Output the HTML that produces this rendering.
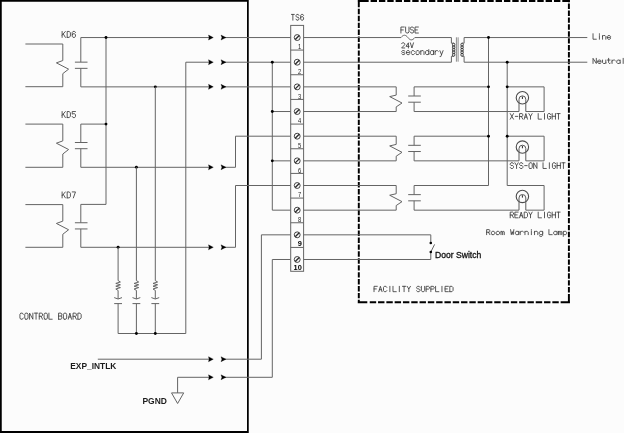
<!DOCTYPE html>
<html><head><meta charset="utf-8"><title>Wiring diagram</title>
<style>
html,body{margin:0;padding:0;background:#fcfcfc;}
body{width:624px;height:433px;overflow:hidden;position:relative;font-family:"Liberation Sans",sans-serif;}
svg{display:block;position:absolute;left:-8px;top:-8px;filter:grayscale(1);}
</style></head><body>
<svg width="640" height="449" viewBox="-8 -8 640 449">
<g>
<rect x="-8" y="-8" width="640" height="449" fill="#fcfcfc"/>
<path d="M-8,-8 H248.75 V441 H-8 Z M1.75,1.7 V430.9 H247.0 V1.7 Z" fill="#000" fill-rule="evenodd"/>
<path d="M357.75,-2.00H368.67M357.75,-0.5H368.67M357.75,0.90H368.67M370.60,-2.00H377.00M370.60,-0.5H377.00M370.60,0.90H377.00M378.94,-2.00H385.33M378.94,-0.5H385.33M378.94,0.90H385.33M387.27,-2.00H393.67M387.27,-0.5H393.67M387.27,0.90H393.67M395.60,-2.00H402.00M395.60,-0.5H402.00M395.60,0.90H402.00M403.94,-2.00H410.34M403.94,-0.5H410.34M403.94,0.90H410.34M412.27,-2.00H418.67M412.27,-0.5H418.67M412.27,0.90H418.67M420.61,-2.00H427.01M420.61,-0.5H427.01M420.61,0.90H427.01M428.94,-2.00H435.34M428.94,-0.5H435.34M428.94,0.90H435.34M437.28,-2.00H443.68M437.28,-0.5H443.68M437.28,0.90H443.68M445.61,-2.00H452.01M445.61,-0.5H452.01M445.61,0.90H452.01M453.95,-2.00H460.35M453.95,-0.5H460.35M453.95,0.90H460.35M462.28,-2.00H468.68M462.28,-0.5H468.68M462.28,0.90H468.68M470.62,-2.00H477.02M470.62,-0.5H477.02M470.62,0.90H477.02M478.95,-2.00H485.35M478.95,-0.5H485.35M478.95,0.90H485.35M487.29,-2.00H493.69M487.29,-0.5H493.69M487.29,0.90H493.69M495.62,-2.00H502.02M495.62,-0.5H502.02M495.62,0.90H502.02M503.96,-2.00H510.36M503.96,-0.5H510.36M503.96,0.90H510.36M512.29,-2.00H518.69M512.29,-0.5H518.69M512.29,0.90H518.69M520.63,-2.00H527.03M520.63,-0.5H527.03M520.63,0.90H527.03M528.96,-2.00H535.36M528.96,-0.5H535.36M528.96,0.90H535.36M537.30,-2.00H543.70M537.30,-0.5H543.70M537.30,0.90H543.70M545.63,-2.00H552.03M545.63,-0.5H552.03M545.63,0.90H552.03M553.97,-2.00H560.37M553.97,-0.5H560.37M553.97,0.90H560.37M562.30,-2.00H569.95M562.30,-0.5H569.95M562.30,0.90H569.95M357.75,302.30H367.30M369.75,302.30H376.15M378.05,302.30H384.45M386.35,302.30H392.75M394.65,302.30H401.05M402.95,302.30H409.35M411.25,302.30H417.65M419.55,302.30H425.95M427.85,302.30H434.25M436.15,302.30H442.55M444.45,302.30H450.85M452.75,302.30H459.15M461.05,302.30H467.45M469.35,302.30H475.75M477.65,302.30H484.05M485.95,302.30H492.35M494.25,302.30H500.65M502.55,302.30H508.95M510.85,302.30H517.25M519.15,302.30H525.55M527.45,302.30H533.85M535.75,302.30H542.15M544.05,302.30H550.45M552.35,302.30H558.75M560.65,302.30H569.95M358.80,-8.00V7.27M358.80,8.80V14.20M358.80,15.73V21.13M358.80,22.66V28.06M358.80,29.59V34.99M358.80,36.52V41.92M358.80,43.45V48.85M358.80,50.38V55.78M358.80,57.31V62.71M358.80,64.24V69.64M358.80,71.17V76.57M358.80,78.10V83.50M358.80,85.03V90.43M358.80,91.96V97.36M358.80,98.89V104.29M358.80,105.82V111.22M358.80,112.75V118.15M358.80,119.68V125.08M358.80,126.61V132.01M358.80,133.54V138.94M358.80,140.47V145.87M358.80,147.40V152.80M358.80,154.33V159.73M358.80,161.26V166.66M358.80,168.19V173.59M358.80,175.12V180.52M358.80,182.05V187.45M358.80,188.98V194.38M358.80,195.91V201.31M358.80,202.84V208.24M358.80,209.77V215.17M358.80,216.70V222.10M358.80,223.63V229.03M358.80,230.56V235.96M358.80,237.49V242.89M358.80,244.42V249.82M358.80,251.35V256.75M358.80,258.28V263.68M358.80,265.21V270.61M358.80,272.14V277.54M358.80,279.07V284.47M358.80,286.00V291.40M358.80,292.93V298.33M358.80,299.86V303.35M568.90,-8.00V2.30M568.90,3.60V9.00M568.90,10.52V15.92M568.90,17.43V22.83M568.90,24.34V29.74M568.90,31.26V36.66M568.90,38.17V43.57M568.90,45.09V50.49M568.90,52.00V57.40M568.90,58.92V64.32M568.90,65.83V71.23M568.90,72.75V78.15M568.90,79.67V85.07M568.90,86.58V91.98M568.90,93.50V98.90M568.90,100.41V105.81M568.90,107.33V112.73M568.90,114.24V119.64M568.90,121.16V126.56M568.90,128.07V133.47M568.90,134.99V140.39M568.90,141.90V147.30M568.90,148.82V154.22M568.90,155.73V161.13M568.90,162.65V168.05M568.90,169.56V174.96M568.90,176.47V181.88M568.90,183.39V188.79M568.90,190.30V195.70M568.90,197.22V202.62M568.90,204.13V209.53M568.90,211.05V216.45M568.90,217.96V223.36M568.90,224.88V230.28M568.90,231.79V237.19M568.90,238.71V244.11M568.90,245.62V251.02M568.90,252.54V257.94M568.90,259.45V264.85M568.90,266.37V271.77M568.90,273.28V278.68M568.90,280.20V285.60M568.90,287.12V292.51M568.90,294.03V303.35" fill="none" stroke="#000" stroke-width="1.95"/>
<path d="M25.40,44.00 L62.80,44.00 L62.80,60.55 L56.40,62.85 L68.60,69.15 L62.80,73.65 L62.80,86.70 L25.40,86.70" fill="none" stroke="#646464" stroke-width="1.0" />
<path d="M80.80,37.55 L80.80,62.15" fill="none" stroke="#646464" stroke-width="1.0" />
<path d="M74.90,62.15 L87.50,62.15" fill="none" stroke="#646464" stroke-width="1.0" />
<path d="M74.90,68.35 L87.50,68.35" fill="none" stroke="#646464" stroke-width="1.0" />
<path d="M80.80,68.35 L80.80,86.87" fill="none" stroke="#646464" stroke-width="1.0" />
<path d="M25.40,124.10 L62.80,124.10 L62.80,140.90 L56.40,143.20 L68.60,149.50 L62.80,154.00 L62.80,167.30 L25.40,167.30" fill="none" stroke="#646464" stroke-width="1.0" />
<path d="M80.80,124.10 L80.80,142.50" fill="none" stroke="#646464" stroke-width="1.0" />
<path d="M74.90,142.50 L87.50,142.50" fill="none" stroke="#646464" stroke-width="1.0" />
<path d="M74.90,148.70 L87.50,148.70" fill="none" stroke="#646464" stroke-width="1.0" />
<path d="M80.80,148.70 L80.80,167.30" fill="none" stroke="#646464" stroke-width="1.0" />
<path d="M25.40,204.60 L62.80,204.60 L62.80,221.15 L56.40,223.45 L68.60,229.75 L62.80,234.25 L62.80,247.30 L25.40,247.30" fill="none" stroke="#646464" stroke-width="1.0" />
<path d="M80.80,204.40 L80.80,222.75" fill="none" stroke="#646464" stroke-width="1.0" />
<path d="M74.90,222.75 L87.50,222.75" fill="none" stroke="#646464" stroke-width="1.0" />
<path d="M74.90,228.95 L87.50,228.95" fill="none" stroke="#646464" stroke-width="1.0" />
<path d="M80.80,228.95 L80.80,247.30" fill="none" stroke="#646464" stroke-width="1.0" />
<path d="M80.80,37.55 L210.20,37.55" fill="none" stroke="#646464" stroke-width="1.0" />
<path d="M223.80,37.55 L290.70,37.55" fill="none" stroke="#646464" stroke-width="1.0" />
<path d="M106.00,37.55 L106.00,204.40 L80.80,204.40" fill="none" stroke="#646464" stroke-width="1.0" />
<path d="M80.80,124.10 L106.00,124.10" fill="none" stroke="#646464" stroke-width="1.0" />
<circle cx="106.00" cy="37.55" r="1.45" fill="#000"/>
<circle cx="106.00" cy="124.10" r="1.45" fill="#000"/>
<path d="M185.80,333.50 L185.80,62.21 L210.20,62.21" fill="none" stroke="#646464" stroke-width="1.0" />
<path d="M223.80,62.21 L290.70,62.21" fill="none" stroke="#646464" stroke-width="1.0" />
<path d="M80.80,86.87 L210.20,86.87" fill="none" stroke="#646464" stroke-width="1.0" />
<path d="M223.80,86.87 L290.70,86.87" fill="none" stroke="#646464" stroke-width="1.0" />
<circle cx="155.30" cy="86.87" r="1.45" fill="#000"/>
<path d="M80.80,167.30 L210.20,167.30" fill="none" stroke="#646464" stroke-width="1.0" />
<path d="M223.80,167.30 L235.50,167.30 L235.50,136.19 L290.70,136.19" fill="none" stroke="#646464" stroke-width="1.0" />
<circle cx="136.40" cy="167.30" r="1.45" fill="#000"/>
<path d="M80.80,247.30 L210.20,247.30" fill="none" stroke="#646464" stroke-width="1.0" />
<path d="M223.80,247.30 L235.50,247.30 L235.50,185.51 L290.70,185.51" fill="none" stroke="#646464" stroke-width="1.0" />
<circle cx="118.10" cy="247.30" r="1.45" fill="#000"/>
<path d="M208.50,35.05 L213.30,37.55 L208.50,40.05 L209.10,37.55 Z" fill="#000" stroke="#000" stroke-width="0.3" stroke-linejoin="round"/>
<path d="M221.00,35.05 L226.00,37.55 L221.00,40.05 L221.90,37.55 Z" fill="#000" stroke="#000" stroke-width="0.3" stroke-linejoin="round"/>
<path d="M208.50,59.71 L213.30,62.21 L208.50,64.71 L209.10,62.21 Z" fill="#000" stroke="#000" stroke-width="0.3" stroke-linejoin="round"/>
<path d="M221.00,59.71 L226.00,62.21 L221.00,64.71 L221.90,62.21 Z" fill="#000" stroke="#000" stroke-width="0.3" stroke-linejoin="round"/>
<path d="M208.50,84.37 L213.30,86.87 L208.50,89.37 L209.10,86.87 Z" fill="#000" stroke="#000" stroke-width="0.3" stroke-linejoin="round"/>
<path d="M221.00,84.37 L226.00,86.87 L221.00,89.37 L221.90,86.87 Z" fill="#000" stroke="#000" stroke-width="0.3" stroke-linejoin="round"/>
<path d="M208.50,164.80 L213.30,167.30 L208.50,169.80 L209.10,167.30 Z" fill="#000" stroke="#000" stroke-width="0.3" stroke-linejoin="round"/>
<path d="M221.00,164.80 L226.00,167.30 L221.00,169.80 L221.90,167.30 Z" fill="#000" stroke="#000" stroke-width="0.3" stroke-linejoin="round"/>
<path d="M208.50,244.80 L213.30,247.30 L208.50,249.80 L209.10,247.30 Z" fill="#000" stroke="#000" stroke-width="0.3" stroke-linejoin="round"/>
<path d="M221.00,244.80 L226.00,247.30 L221.00,249.80 L221.90,247.30 Z" fill="#000" stroke="#000" stroke-width="0.3" stroke-linejoin="round"/>
<path d="M118.10,247.30 L118.10,280.60 L120.40,282.00 L115.80,283.40 L120.40,284.80 L115.80,286.20 L120.40,287.60 L115.80,289.00 L118.10,290.40 L118.10,298.90" fill="none" stroke="#646464" stroke-width="1.0" />
<path d="M114.20,297.6 Q118.10,300.4 122.00,297.6" fill="none" stroke="#646464" stroke-width="1.0"/>
<path d="M114.20,303.60 L122.00,303.60" fill="none" stroke="#646464" stroke-width="1.0" />
<path d="M118.10,303.60 L118.10,333.50" fill="none" stroke="#646464" stroke-width="1.0" />
<path d="M136.40,167.30 L136.40,280.60 L138.70,282.00 L134.10,283.40 L138.70,284.80 L134.10,286.20 L138.70,287.60 L134.10,289.00 L136.40,290.40 L136.40,298.90" fill="none" stroke="#646464" stroke-width="1.0" />
<path d="M132.50,297.6 Q136.40,300.4 140.30,297.6" fill="none" stroke="#646464" stroke-width="1.0"/>
<path d="M132.50,303.60 L140.30,303.60" fill="none" stroke="#646464" stroke-width="1.0" />
<path d="M136.40,303.60 L136.40,333.50" fill="none" stroke="#646464" stroke-width="1.0" />
<path d="M155.30,86.87 L155.30,280.60 L157.60,282.00 L153.00,283.40 L157.60,284.80 L153.00,286.20 L157.60,287.60 L153.00,289.00 L155.30,290.40 L155.30,298.90" fill="none" stroke="#646464" stroke-width="1.0" />
<path d="M151.40,297.6 Q155.30,300.4 159.20,297.6" fill="none" stroke="#646464" stroke-width="1.0"/>
<path d="M151.40,303.60 L159.20,303.60" fill="none" stroke="#646464" stroke-width="1.0" />
<path d="M155.30,303.60 L155.30,333.50" fill="none" stroke="#646464" stroke-width="1.0" />
<path d="M118.10,333.50 L185.80,333.50" fill="none" stroke="#646464" stroke-width="1.0" />
<circle cx="136.40" cy="333.50" r="1.45" fill="#000"/>
<circle cx="155.30" cy="333.50" r="1.45" fill="#000"/>
<path d="M97.80,359.20 L210.20,359.20" fill="none" stroke="#646464" stroke-width="1.0" />
<path d="M223.80,359.20 L261.40,359.20 L261.40,234.83 L290.70,234.83" fill="none" stroke="#646464" stroke-width="1.0" />
<path d="M210.20,377.30 L177.60,377.30 L177.60,392.90" fill="none" stroke="#646464" stroke-width="1.0" />
<path d="M223.80,377.30 L272.30,377.30 L272.30,259.49 L290.70,259.49" fill="none" stroke="#646464" stroke-width="1.0" />
<path d="M208.50,356.70 L213.30,359.20 L208.50,361.70 L209.10,359.20 Z" fill="#000" stroke="#000" stroke-width="0.3" stroke-linejoin="round"/>
<path d="M221.00,356.70 L226.00,359.20 L221.00,361.70 L221.90,359.20 Z" fill="#000" stroke="#000" stroke-width="0.3" stroke-linejoin="round"/>
<path d="M208.50,374.80 L213.30,377.30 L208.50,379.80 L209.10,377.30 Z" fill="#000" stroke="#000" stroke-width="0.3" stroke-linejoin="round"/>
<path d="M221.00,374.80 L226.00,377.30 L221.00,379.80 L221.90,377.30 Z" fill="#000" stroke="#000" stroke-width="0.3" stroke-linejoin="round"/>
<path d="M171.5,392.9 L183.7,392.9 L177.6,403.5 Z" fill="none" stroke="#646464" stroke-width="1.0"/>
<text x="70.30" y="368.80" font-family="Liberation Sans" font-size="9" font-weight="bold" fill="#1c1c1c" textLength="46.0" lengthAdjust="spacingAndGlyphs">EXP_INTLK</text>
<text x="142.40" y="403.60" font-family="Liberation Sans" font-size="9" font-weight="bold" fill="#1c1c1c" textLength="24.5" lengthAdjust="spacingAndGlyphs">PGND</text>
<path d="M272.30,62.21 L272.30,210.17 L290.70,210.17" fill="none" stroke="#646464" stroke-width="1.0" />
<path d="M272.30,111.53 L290.70,111.53" fill="none" stroke="#646464" stroke-width="1.0" />
<path d="M272.30,160.85 L290.70,160.85" fill="none" stroke="#646464" stroke-width="1.0" />
<circle cx="272.30" cy="62.21" r="1.45" fill="#000"/>
<circle cx="272.30" cy="111.53" r="1.45" fill="#000"/>
<circle cx="272.30" cy="160.85" r="1.45" fill="#000"/>
<rect x="290.7" y="25.4" width="12.90" height="245.90" fill="#fcfcfc" stroke="#646464" stroke-width="1.0"/>
<path d="M290.70,50.07 L303.60,50.07" fill="none" stroke="#646464" stroke-width="1.0" />
<path d="M290.70,74.74 L303.60,74.74" fill="none" stroke="#646464" stroke-width="1.0" />
<path d="M290.70,99.41 L303.60,99.41" fill="none" stroke="#646464" stroke-width="1.0" />
<path d="M290.70,124.08 L303.60,124.08" fill="none" stroke="#646464" stroke-width="1.0" />
<path d="M290.70,148.75 L303.60,148.75" fill="none" stroke="#646464" stroke-width="1.0" />
<path d="M290.70,173.42 L303.60,173.42" fill="none" stroke="#646464" stroke-width="1.0" />
<path d="M290.70,198.09 L303.60,198.09" fill="none" stroke="#646464" stroke-width="1.0" />
<path d="M290.70,222.76 L303.60,222.76" fill="none" stroke="#646464" stroke-width="1.0" />
<path d="M290.70,247.43 L303.60,247.43" fill="none" stroke="#646464" stroke-width="1.0" />
<circle cx="297.2" cy="37.55" r="2.95" fill="none" stroke="#3c3c3c" stroke-width="0.95"/>
<path d="M295.20,39.55 L299.20,35.55" stroke="#2a2a2a" stroke-width="1.3"/>
<text x="301.20" y="49.17" font-family="Liberation Sans" font-size="6.4" font-weight="normal" fill="#1e1e1e" text-anchor="end" textLength="3.2" lengthAdjust="spacingAndGlyphs">1</text>
<circle cx="297.2" cy="62.21" r="2.95" fill="none" stroke="#3c3c3c" stroke-width="0.95"/>
<path d="M295.20,64.21 L299.20,60.21" stroke="#2a2a2a" stroke-width="1.3"/>
<text x="301.20" y="73.84" font-family="Liberation Sans" font-size="6.4" font-weight="normal" fill="#1e1e1e" text-anchor="end" textLength="3.2" lengthAdjust="spacingAndGlyphs">2</text>
<circle cx="297.2" cy="86.87" r="2.95" fill="none" stroke="#3c3c3c" stroke-width="0.95"/>
<path d="M295.20,88.87 L299.20,84.87" stroke="#2a2a2a" stroke-width="1.3"/>
<text x="301.20" y="98.51" font-family="Liberation Sans" font-size="6.4" font-weight="normal" fill="#1e1e1e" text-anchor="end" textLength="3.2" lengthAdjust="spacingAndGlyphs">3</text>
<circle cx="297.2" cy="111.53" r="2.95" fill="none" stroke="#3c3c3c" stroke-width="0.95"/>
<path d="M295.20,113.53 L299.20,109.53" stroke="#2a2a2a" stroke-width="1.3"/>
<text x="301.20" y="123.18" font-family="Liberation Sans" font-size="6.4" font-weight="normal" fill="#1e1e1e" text-anchor="end" textLength="3.2" lengthAdjust="spacingAndGlyphs">4</text>
<circle cx="297.2" cy="136.19" r="2.95" fill="none" stroke="#3c3c3c" stroke-width="0.95"/>
<path d="M295.20,138.19 L299.20,134.19" stroke="#2a2a2a" stroke-width="1.3"/>
<text x="301.20" y="147.85" font-family="Liberation Sans" font-size="6.4" font-weight="normal" fill="#1e1e1e" text-anchor="end" textLength="3.2" lengthAdjust="spacingAndGlyphs">5</text>
<circle cx="297.2" cy="160.85" r="2.95" fill="none" stroke="#3c3c3c" stroke-width="0.95"/>
<path d="M295.20,162.85 L299.20,158.85" stroke="#2a2a2a" stroke-width="1.3"/>
<text x="301.20" y="172.52" font-family="Liberation Sans" font-size="6.4" font-weight="normal" fill="#1e1e1e" text-anchor="end" textLength="3.2" lengthAdjust="spacingAndGlyphs">6</text>
<circle cx="297.2" cy="185.51" r="2.95" fill="none" stroke="#3c3c3c" stroke-width="0.95"/>
<path d="M295.20,187.51 L299.20,183.51" stroke="#2a2a2a" stroke-width="1.3"/>
<text x="301.20" y="197.19" font-family="Liberation Sans" font-size="6.4" font-weight="normal" fill="#1e1e1e" text-anchor="end" textLength="3.2" lengthAdjust="spacingAndGlyphs">7</text>
<circle cx="297.2" cy="210.17" r="2.95" fill="none" stroke="#3c3c3c" stroke-width="0.95"/>
<path d="M295.20,212.17 L299.20,208.17" stroke="#2a2a2a" stroke-width="1.3"/>
<text x="301.20" y="221.86" font-family="Liberation Sans" font-size="6.4" font-weight="normal" fill="#1e1e1e" text-anchor="end" textLength="3.2" lengthAdjust="spacingAndGlyphs">8</text>
<circle cx="297.2" cy="234.83" r="2.95" fill="none" stroke="#3c3c3c" stroke-width="0.95"/>
<path d="M295.20,236.83 L299.20,232.83" stroke="#2a2a2a" stroke-width="1.3"/>
<text x="301.80" y="245.83" font-family="Liberation Sans" font-size="7.4" font-weight="bold" fill="#000" text-anchor="end">9</text>
<circle cx="297.2" cy="259.49" r="2.95" fill="none" stroke="#3c3c3c" stroke-width="0.95"/>
<path d="M295.20,261.49 L299.20,257.49" stroke="#2a2a2a" stroke-width="1.3"/>
<text x="301.80" y="270.49" font-family="Liberation Sans" font-size="7.4" font-weight="bold" fill="#000" text-anchor="end">10</text>
<path d="M303.60,37.55 L401.00,37.55" fill="none" stroke="#646464" stroke-width="1.0" />
<path d="M401.0,37.55 C403.30,34.48 405.60,34.48 407.90,37.55 C410.20,40.62 412.50,40.62 414.80,37.55" fill="none" stroke="#646464" stroke-width="1.0"/>
<path d="M414.80,37.55 L451.40,37.55 L451.40,43.20 L453.60,43.20" fill="none" stroke="#646464" stroke-width="1.0" />
<path d="M453.60,56.30 L451.40,56.30 L451.40,62.21 L303.60,62.21" fill="none" stroke="#646464" stroke-width="1.0" />
<ellipse cx="453.65" cy="44.70" rx="1.25" ry="1.55" fill="none" stroke="#2a2a2a" stroke-width="0.85"/>
<ellipse cx="453.65" cy="47.22" rx="1.25" ry="1.55" fill="none" stroke="#2a2a2a" stroke-width="0.85"/>
<ellipse cx="453.65" cy="49.74" rx="1.25" ry="1.55" fill="none" stroke="#2a2a2a" stroke-width="0.85"/>
<ellipse cx="453.65" cy="52.26" rx="1.25" ry="1.55" fill="none" stroke="#2a2a2a" stroke-width="0.85"/>
<ellipse cx="453.65" cy="54.78" rx="1.25" ry="1.55" fill="none" stroke="#2a2a2a" stroke-width="0.85"/>
<ellipse cx="462.10" cy="44.70" rx="1.25" ry="1.55" fill="none" stroke="#2a2a2a" stroke-width="0.85"/>
<ellipse cx="462.10" cy="47.22" rx="1.25" ry="1.55" fill="none" stroke="#2a2a2a" stroke-width="0.85"/>
<ellipse cx="462.10" cy="49.74" rx="1.25" ry="1.55" fill="none" stroke="#2a2a2a" stroke-width="0.85"/>
<ellipse cx="462.10" cy="52.26" rx="1.25" ry="1.55" fill="none" stroke="#2a2a2a" stroke-width="0.85"/>
<ellipse cx="462.10" cy="54.78" rx="1.25" ry="1.55" fill="none" stroke="#2a2a2a" stroke-width="0.85"/>
<path d="M456.40,37.30 L456.40,61.70" fill="none" stroke="#8a8a8a" stroke-width="1.0" />
<path d="M458.10,37.30 L458.10,61.70" fill="none" stroke="#8a8a8a" stroke-width="1.0" />
<path d="M587.30,37.55 L464.10,37.55 L464.10,43.20 L461.90,43.20" fill="none" stroke="#646464" stroke-width="1.0" />
<path d="M461.90,56.30 L464.10,56.30 L464.10,62.21 L587.30,62.21" fill="none" stroke="#646464" stroke-width="1.0" />
<path d="M488.50,37.55 L488.50,185.51" fill="none" stroke="#646464" stroke-width="1.0" />
<path d="M507.20,62.21 L507.20,185.51" fill="none" stroke="#646464" stroke-width="1.0" />
<circle cx="488.50" cy="37.55" r="1.45" fill="#000"/>
<circle cx="507.20" cy="62.21" r="1.45" fill="#000"/>
<path d="M303.60,86.87 L396.20,86.87 L396.20,95.10 L389.70,96.60 L402.00,103.00 L396.20,106.90 L396.20,111.53 L303.60,111.53" fill="none" stroke="#646464" stroke-width="1.0" />
<path d="M414.10,86.87 L414.10,96.00" fill="none" stroke="#646464" stroke-width="1.0" />
<path d="M408.20,96.00 L420.80,96.00" fill="none" stroke="#646464" stroke-width="1.0" />
<path d="M408.20,102.20 L420.80,102.20" fill="none" stroke="#646464" stroke-width="1.0" />
<path d="M414.10,102.20 L414.10,111.53" fill="none" stroke="#646464" stroke-width="1.0" />
<path d="M414.10,86.87 L488.50,86.87" fill="none" stroke="#646464" stroke-width="1.0" />
<path d="M507.20,86.87 L544.10,86.87 L544.10,111.53 L525.80,111.53" fill="none" stroke="#646464" stroke-width="1.0" />
<path d="M414.10,111.53 L519.00,111.53" fill="none" stroke="#646464" stroke-width="1.0" />
<circle cx="488.50" cy="86.87" r="1.45" fill="#000"/>
<circle cx="507.20" cy="86.87" r="1.45" fill="#000"/>
<circle cx="522.4" cy="97.77" r="6.2" fill="none" stroke="#4c4c4c" stroke-width="1.1"/>
<path d="M519.0,111.53 V99.27 A3.4,3.4 0 0 1 525.8,99.27 V111.53" fill="none" stroke="#5a5a5a" stroke-width="1.0"/>
<path d="M522.40,96.57 L522.40,98.97" fill="none" stroke="#222" stroke-width="1.0" />
<path d="M303.60,136.19 L396.20,136.19 L396.20,144.42 L389.70,145.92 L402.00,152.32 L396.20,156.22 L396.20,160.85 L303.60,160.85" fill="none" stroke="#646464" stroke-width="1.0" />
<path d="M414.10,136.19 L414.10,145.32" fill="none" stroke="#646464" stroke-width="1.0" />
<path d="M408.20,145.32 L420.80,145.32" fill="none" stroke="#646464" stroke-width="1.0" />
<path d="M408.20,151.52 L420.80,151.52" fill="none" stroke="#646464" stroke-width="1.0" />
<path d="M414.10,151.52 L414.10,160.85" fill="none" stroke="#646464" stroke-width="1.0" />
<path d="M414.10,136.19 L488.50,136.19" fill="none" stroke="#646464" stroke-width="1.0" />
<path d="M507.20,136.19 L544.10,136.19 L544.10,160.85 L525.80,160.85" fill="none" stroke="#646464" stroke-width="1.0" />
<path d="M414.10,160.85 L519.00,160.85" fill="none" stroke="#646464" stroke-width="1.0" />
<circle cx="488.50" cy="136.19" r="1.45" fill="#000"/>
<circle cx="507.20" cy="136.19" r="1.45" fill="#000"/>
<circle cx="522.4" cy="147.09" r="6.2" fill="none" stroke="#4c4c4c" stroke-width="1.1"/>
<path d="M519.0,160.85 V148.59 A3.4,3.4 0 0 1 525.8,148.59 V160.85" fill="none" stroke="#5a5a5a" stroke-width="1.0"/>
<path d="M522.40,145.89 L522.40,148.29" fill="none" stroke="#222" stroke-width="1.0" />
<path d="M303.60,185.51 L396.20,185.51 L396.20,193.74 L389.70,195.24 L402.00,201.64 L396.20,205.54 L396.20,210.17 L303.60,210.17" fill="none" stroke="#646464" stroke-width="1.0" />
<path d="M414.10,185.51 L414.10,194.64" fill="none" stroke="#646464" stroke-width="1.0" />
<path d="M408.20,194.64 L420.80,194.64" fill="none" stroke="#646464" stroke-width="1.0" />
<path d="M408.20,200.84 L420.80,200.84" fill="none" stroke="#646464" stroke-width="1.0" />
<path d="M414.10,200.84 L414.10,210.17" fill="none" stroke="#646464" stroke-width="1.0" />
<path d="M414.10,185.51 L488.50,185.51" fill="none" stroke="#646464" stroke-width="1.0" />
<path d="M507.20,185.51 L544.10,185.51 L544.10,210.17 L525.80,210.17" fill="none" stroke="#646464" stroke-width="1.0" />
<path d="M414.10,210.17 L519.00,210.17" fill="none" stroke="#646464" stroke-width="1.0" />
<circle cx="522.4" cy="196.41" r="6.2" fill="none" stroke="#4c4c4c" stroke-width="1.1"/>
<path d="M519.0,210.17 V197.91 A3.4,3.4 0 0 1 525.8,197.91 V210.17" fill="none" stroke="#5a5a5a" stroke-width="1.0"/>
<path d="M522.40,195.21 L522.40,197.61" fill="none" stroke="#222" stroke-width="1.0" />
<path d="M303.60,234.83 L430.80,234.83 L430.80,243.00" fill="none" stroke="#646464" stroke-width="1.0" />
<path d="M434.60,244.40 L430.80,252.00" fill="none" stroke="#646464" stroke-width="1.0" />
<path d="M430.80,252.00 L430.80,259.49 L303.60,259.49" fill="none" stroke="#646464" stroke-width="1.0" />
<circle cx="430.80" cy="243.00" r="1.3" fill="#000"/>
<circle cx="430.80" cy="252.00" r="1.3" fill="#000"/>
<text x="435.10" y="258.00" font-family="Liberation Sans" font-size="9" font-weight="normal" fill="#111" stroke="#111" stroke-width="0.3" textLength="46.2" lengthAdjust="spacingAndGlyphs">Door Switch</text>
<path d="M62.12,37.38 L62.12,31.43 M65.36,31.43 L62.12,35.19 M63.26,33.90 L65.36,37.38 M67.18,37.38 L67.18,31.43 L69.29,31.43 L70.42,32.81 L70.42,35.99 L69.29,37.38 L67.18,37.38 M75.47,32.52 L74.67,31.43 L73.05,31.43 L72.23,32.52 L72.23,36.28 L73.05,37.38 L74.67,37.38 L75.47,36.28 L75.47,34.80 L74.67,33.80 L73.05,33.80 L72.23,34.80" fill="none" stroke="#3c3c3c" stroke-width="0.85" stroke-linejoin="round" stroke-linecap="round"/>
<path d="M62.12,117.58 L62.12,111.52 M65.36,111.52 L62.12,115.36 M63.26,114.05 L65.36,117.58 M67.18,117.58 L67.18,111.52 L69.29,111.52 L70.42,112.94 L70.42,116.16 L69.29,117.58 L67.18,117.58 M75.47,111.52 L72.23,111.52 L72.23,114.15 L73.05,113.74 L74.67,113.74 L75.47,114.75 L75.47,116.47 L74.67,117.58 L73.05,117.58 L72.23,116.47" fill="none" stroke="#3c3c3c" stroke-width="0.85" stroke-linejoin="round" stroke-linecap="round"/>
<path d="M62.12,197.88 L62.12,191.92 M65.36,191.92 L62.12,195.69 M63.26,194.40 L65.36,197.88 M67.18,197.88 L67.18,191.92 L69.29,191.92 L70.42,193.31 L70.42,196.49 L69.29,197.88 L67.18,197.88 M72.23,191.92 L75.47,191.92 L73.37,197.88" fill="none" stroke="#3c3c3c" stroke-width="0.85" stroke-linejoin="round" stroke-linecap="round"/>
<path d="M291.43,14.42 L294.31,14.42 M292.87,14.42 L292.87,20.18 M298.94,15.48 L298.22,14.42 L296.78,14.42 L296.06,15.48 L296.06,16.25 L296.78,17.20 L298.22,17.20 L298.94,18.16 L298.94,19.12 L298.22,20.18 L296.78,20.18 L296.06,19.12 M303.57,15.48 L302.86,14.42 L301.42,14.42 L300.69,15.48 L300.69,19.12 L301.42,20.18 L302.86,20.18 L303.57,19.12 L303.57,17.68 L302.86,16.73 L301.42,16.73 L300.69,17.68" fill="none" stroke="#3c3c3c" stroke-width="0.85" stroke-linejoin="round" stroke-linecap="round"/>
<path d="M400.93,33.03 L400.93,27.03 L404.29,27.03 M400.93,29.93 L403.28,29.93 M405.62,27.03 L405.62,31.83 L406.46,33.03 L408.14,33.03 L408.98,31.83 L408.98,27.03 M413.68,28.13 L412.84,27.03 L411.16,27.03 L410.32,28.13 L410.32,28.93 L411.16,29.93 L412.84,29.93 L413.68,30.93 L413.68,31.93 L412.84,33.03 L411.16,33.03 L410.32,31.93 M418.38,33.03 L415.02,33.03 L415.02,27.03 L418.38,27.03 M415.02,29.93 L417.37,29.93" fill="none" stroke="#3c3c3c" stroke-width="0.85" stroke-linejoin="round" stroke-linecap="round"/>
<path d="M401.62,43.77 L402.40,42.83 L403.96,42.83 L404.75,43.77 L404.75,44.71 L401.62,47.98 L404.75,47.98 M408.41,47.98 L408.41,42.83 L405.99,46.34 L409.11,46.34 M410.36,42.83 L411.92,47.98 L413.48,42.83" fill="none" stroke="#3c3c3c" stroke-width="0.85" stroke-linejoin="round" stroke-linecap="round"/>
<path d="M404.93,51.42 L404.12,50.63 L402.53,50.63 L401.73,51.42 L401.73,51.91 L402.53,52.60 L404.12,52.60 L404.93,53.29 L404.93,53.79 L404.12,54.58 L402.53,54.58 L401.73,53.79 M406.49,52.60 L409.69,52.60 L409.69,51.61 L408.89,50.63 L407.29,50.63 L406.49,51.61 L406.49,53.59 L407.29,54.58 L408.89,54.58 L409.69,53.79 M414.46,51.61 L413.66,50.63 L412.06,50.63 L411.26,51.61 L411.26,53.59 L412.06,54.58 L413.66,54.58 L414.46,53.59 M416.83,54.58 L416.03,53.59 L416.03,51.61 L416.83,50.63 L418.43,50.63 L419.23,51.61 L419.23,53.59 L418.43,54.58 L416.83,54.58 M420.80,54.58 L420.80,50.63 M420.80,51.61 L421.60,50.63 L423.20,50.63 L424.00,51.61 L424.00,54.58 M428.77,49.64 L428.77,54.58 M428.77,51.61 L427.97,50.63 L426.37,50.63 L425.57,51.61 L425.57,53.59 L426.37,54.58 L427.97,54.58 L428.77,53.59 M433.54,54.58 L433.54,50.63 M433.54,51.61 L432.74,50.63 L431.14,50.63 L430.34,51.61 L430.34,53.59 L431.14,54.58 L432.74,54.58 L433.54,53.59 M435.11,54.58 L435.11,50.63 M435.11,52.01 L436.23,50.63 L437.51,50.63 L438.31,51.42 M439.88,50.63 L441.48,54.58 M443.07,50.63 L440.83,56.55 L440.04,56.55" fill="none" stroke="#3c3c3c" stroke-width="0.85" stroke-linejoin="round" stroke-linecap="round"/>
<path d="M593.02,33.73 L593.02,39.23 L596.30,39.23 M599.42,39.23 L599.42,35.56 M599.42,34.46 L599.42,33.73 M602.54,39.23 L602.54,35.56 M602.54,36.48 L603.36,35.56 L605.00,35.56 L605.82,36.48 L605.82,39.23 M607.29,37.39 L610.57,37.39 L610.57,36.48 L609.75,35.56 L608.12,35.56 L607.29,36.48 L607.29,38.31 L608.12,39.23 L609.75,39.23 L610.57,38.49" fill="none" stroke="#3c3c3c" stroke-width="0.85" stroke-linejoin="round" stroke-linecap="round"/>
<path d="M593.02,63.48 L593.02,58.33 L596.30,63.48 L596.30,58.33 M597.78,61.76 L601.06,61.76 L601.06,60.90 L600.24,60.04 L598.60,60.04 L597.78,60.90 L597.78,62.62 L598.60,63.48 L600.24,63.48 L601.06,62.79 M602.54,60.04 L602.54,62.62 L603.36,63.48 L605.00,63.48 L605.82,62.62 M605.82,60.04 L605.82,63.48 M608.61,58.33 L608.61,62.62 L609.43,63.48 L610.08,63.48 L610.57,62.96 M607.46,60.04 L610.08,60.04 M612.05,63.48 L612.05,60.04 M612.05,61.24 L613.20,60.04 L614.51,60.04 L615.33,60.73 M620.09,63.48 L620.09,60.04 M620.09,60.90 L619.27,60.04 L617.63,60.04 L616.81,60.90 L616.81,62.62 L617.63,63.48 L619.27,63.48 L620.09,62.62 M623.20,63.48 L623.20,58.33" fill="none" stroke="#3c3c3c" stroke-width="0.85" stroke-linejoin="round" stroke-linecap="round"/>
<path d="M510.23,119.17 L513.50,113.58 M510.23,113.58 L513.50,119.17 M515.30,116.38 L517.76,116.38 M519.55,119.17 L519.55,113.58 L522.01,113.58 L522.83,114.32 L522.83,115.72 L522.01,116.47 L519.55,116.47 M521.35,116.47 L522.83,119.17 M524.21,119.17 L525.85,113.58 L527.49,119.17 M524.87,117.12 L526.84,117.12 M528.87,113.58 L530.51,116.38 L532.15,113.58 M530.51,116.38 L530.51,119.17 M538.20,113.58 L538.20,119.17 L541.48,119.17 M544.50,119.17 L544.50,113.58 M550.80,114.70 L549.98,113.58 L548.34,113.58 L547.52,114.70 L547.52,118.05 L548.34,119.17 L549.98,119.17 L550.80,118.05 L550.80,116.56 L549.32,116.56 M552.18,119.17 L552.18,113.58 M555.46,119.17 L555.46,113.58 M552.18,116.28 L555.46,116.28 M556.84,113.58 L560.12,113.58 M558.48,113.58 L558.48,119.17" fill="none" stroke="#3c3c3c" stroke-width="0.85" stroke-linejoin="round" stroke-linecap="round"/>
<path d="M513.50,163.82 L512.69,162.77 L511.05,162.77 L510.23,163.82 L510.23,164.58 L511.05,165.53 L512.69,165.53 L513.50,166.48 L513.50,167.43 L512.69,168.47 L511.05,168.47 L510.23,167.43 M514.91,162.77 L516.55,165.62 L518.19,162.77 M516.55,165.62 L516.55,168.47 M522.88,163.82 L522.06,162.77 L520.42,162.77 L519.60,163.82 L519.60,164.58 L520.42,165.53 L522.06,165.53 L522.88,166.48 L522.88,167.43 L522.06,168.47 L520.42,168.47 L519.60,167.43 M524.70,165.62 L527.16,165.62 M529.80,168.47 L528.98,167.33 L528.98,163.91 L529.80,162.77 L531.44,162.77 L532.26,163.91 L532.26,167.33 L531.44,168.47 L529.80,168.47 M533.67,168.47 L533.67,162.77 L536.95,168.47 L536.95,162.77 M543.04,162.77 L543.04,168.47 L546.32,168.47 M549.37,168.47 L549.37,162.77 M555.70,163.91 L554.88,162.77 L553.24,162.77 L552.42,163.91 L552.42,167.33 L553.24,168.47 L554.88,168.47 L555.70,167.33 L555.70,165.81 L554.22,165.81 M557.11,168.47 L557.11,162.77 M560.39,168.47 L560.39,162.77 M557.11,165.53 L560.39,165.53 M561.79,162.77 L565.07,162.77 M563.43,162.77 L563.43,168.47" fill="none" stroke="#3c3c3c" stroke-width="0.85" stroke-linejoin="round" stroke-linecap="round"/>
<path d="M510.23,217.82 L510.23,212.12 L512.69,212.12 L513.50,212.88 L513.50,214.31 L512.69,215.07 L510.23,215.07 M512.03,215.07 L513.50,217.82 M518.17,217.82 L514.89,217.82 L514.89,212.12 L518.17,212.12 M514.89,214.88 L517.18,214.88 M519.55,217.82 L521.19,212.12 L522.83,217.82 M520.20,215.73 L522.17,215.73 M524.21,217.82 L524.21,212.12 L526.34,212.12 L527.49,213.45 L527.49,216.49 L526.34,217.82 L524.21,217.82 M528.87,212.12 L530.51,214.97 L532.15,212.12 M530.51,214.97 L530.51,217.82 M538.20,212.12 L538.20,217.82 L541.48,217.82 M544.50,217.82 L544.50,212.12 M550.80,213.26 L549.98,212.12 L548.34,212.12 L547.52,213.26 L547.52,216.68 L548.34,217.82 L549.98,217.82 L550.80,216.68 L550.80,215.16 L549.32,215.16 M552.18,217.82 L552.18,212.12 M555.46,217.82 L555.46,212.12 M552.18,214.88 L555.46,214.88 M556.84,212.12 L560.12,212.12 M558.48,212.12 L558.48,217.82" fill="none" stroke="#3c3c3c" stroke-width="0.85" stroke-linejoin="round" stroke-linecap="round"/>
<path d="M486.62,234.67 L486.62,229.62 L489.08,229.62 L489.90,230.30 L489.90,231.56 L489.08,232.23 L486.62,232.23 M488.43,232.23 L489.90,234.67 M492.24,234.67 L491.42,233.83 L491.42,232.15 L492.24,231.31 L493.88,231.31 L494.70,232.15 L494.70,233.83 L493.88,234.67 L492.24,234.67 M497.03,234.67 L496.21,233.83 L496.21,232.15 L497.03,231.31 L498.67,231.31 L499.49,232.15 L499.49,233.83 L498.67,234.67 L497.03,234.67 M501.00,234.67 L501.00,231.31 M501.00,231.98 L501.66,231.31 L502.15,231.31 L502.64,231.98 L502.64,234.67 M502.64,231.98 L503.30,231.31 L503.79,231.31 L504.28,231.98 L504.28,234.67 M510.58,229.62 L511.32,234.67 L512.22,231.64 L513.13,234.67 L513.86,229.62 M518.66,234.67 L518.66,231.31 M518.66,232.15 L517.84,231.31 L516.20,231.31 L515.38,232.15 L515.38,233.83 L516.20,234.67 L517.84,234.67 L518.66,233.83 M520.17,234.67 L520.17,231.31 M520.17,232.49 L521.32,231.31 L522.63,231.31 L523.45,231.98 M524.96,234.67 L524.96,231.31 M524.96,232.15 L525.78,231.31 L527.42,231.31 L528.24,232.15 L528.24,234.67 M531.39,234.67 L531.39,231.31 M531.39,230.30 L531.39,229.62 M534.54,234.67 L534.54,231.31 M534.54,232.15 L535.36,231.31 L537.00,231.31 L537.82,232.15 L537.82,234.67 M542.62,231.31 L542.62,235.52 L541.80,236.36 L540.16,236.36 L539.34,235.68 M542.62,232.15 L541.80,231.31 L540.16,231.31 L539.34,232.15 L539.34,233.83 L540.16,234.67 L541.80,234.67 L542.62,233.83 M548.92,229.62 L548.92,234.67 L552.20,234.67 M556.99,234.67 L556.99,231.31 M556.99,232.15 L556.17,231.31 L554.53,231.31 L553.71,232.15 L553.71,233.83 L554.53,234.67 L556.17,234.67 L556.99,233.83 M558.50,234.67 L558.50,231.31 M558.50,231.98 L559.16,231.31 L559.65,231.31 L560.14,231.98 L560.14,234.67 M560.14,231.98 L560.80,231.31 L561.29,231.31 L561.78,231.98 L561.78,234.67 M563.30,231.31 L563.30,236.36 M563.30,232.15 L564.12,231.31 L565.76,231.31 L566.58,232.15 L566.58,233.83 L565.76,234.67 L564.12,234.67 L563.30,233.83" fill="none" stroke="#3c3c3c" stroke-width="0.85" stroke-linejoin="round" stroke-linecap="round"/>
<path d="M374.03,291.68 L374.03,286.32 L377.31,286.32 M374.03,288.91 L376.32,288.91 M378.76,291.68 L380.40,286.32 L382.04,291.68 M379.42,289.71 L381.38,289.71 M386.78,287.39 L385.96,286.32 L384.32,286.32 L383.50,287.39 L383.50,290.61 L384.32,291.68 L385.96,291.68 L386.78,290.61 M389.87,291.68 L389.87,286.32 M392.97,286.32 L392.97,291.68 L396.25,291.68 M399.34,291.68 L399.34,286.32 M402.44,286.32 L405.72,286.32 M404.08,286.32 L404.08,291.68 M407.17,286.32 L408.81,289.00 L410.45,286.32 M408.81,289.00 L408.81,291.68 M419.93,287.31 L419.11,286.32 L417.47,286.32 L416.65,287.31 L416.65,288.02 L417.47,288.91 L419.11,288.91 L419.93,289.80 L419.93,290.69 L419.11,291.68 L417.47,291.68 L416.65,290.69 M421.38,286.32 L421.38,290.61 L422.20,291.68 L423.84,291.68 L424.66,290.61 L424.66,286.32 M426.12,291.68 L426.12,286.32 L428.58,286.32 L429.40,287.04 L429.40,288.38 L428.58,289.09 L426.12,289.09 M430.85,291.68 L430.85,286.32 L433.31,286.32 L434.13,287.04 L434.13,288.38 L433.31,289.09 L430.85,289.09 M435.59,286.32 L435.59,291.68 L438.87,291.68 M441.96,291.68 L441.96,286.32 M448.34,291.68 L445.06,291.68 L445.06,286.32 L448.34,286.32 M445.06,288.91 L447.36,288.91 M449.80,291.68 L449.80,286.32 L451.93,286.32 L453.07,287.57 L453.07,290.43 L451.93,291.68 L449.80,291.68" fill="none" stroke="#3c3c3c" stroke-width="0.85" stroke-linejoin="round" stroke-linecap="round"/>
<path d="M23.21,314.34 L22.39,313.12 L20.75,313.12 L19.93,314.34 L19.93,318.00 L20.75,319.22 L22.39,319.22 L23.21,318.00 M25.58,319.22 L24.76,318.00 L24.76,314.34 L25.58,313.12 L27.22,313.12 L28.04,314.34 L28.04,318.00 L27.22,319.22 L25.58,319.22 M29.59,319.22 L29.59,313.12 L32.87,319.22 L32.87,313.12 M34.42,313.12 L37.70,313.12 M36.06,313.12 L36.06,319.22 M39.25,319.22 L39.25,313.12 L41.71,313.12 L42.53,313.94 L42.53,315.46 L41.71,316.28 L39.25,316.28 M41.05,316.28 L42.53,319.22 M44.90,319.22 L44.08,318.00 L44.08,314.34 L44.90,313.12 L46.54,313.12 L47.36,314.34 L47.36,318.00 L46.54,319.22 L44.90,319.22 M48.91,313.12 L48.91,319.22 L52.19,319.22 M58.57,319.22 L58.57,313.12 L61.03,313.12 L61.85,313.94 L61.85,315.26 L61.03,316.07 L58.57,316.07 M61.03,316.07 L61.85,316.89 L61.85,318.41 L61.03,319.22 L58.57,319.22 M64.22,319.22 L63.40,318.00 L63.40,314.34 L64.22,313.12 L65.86,313.12 L66.68,314.34 L66.68,318.00 L65.86,319.22 L64.22,319.22 M68.23,319.22 L69.87,313.12 L71.51,319.22 M68.89,316.99 L70.86,316.99 M73.06,319.22 L73.06,313.12 L75.52,313.12 L76.34,313.94 L76.34,315.46 L75.52,316.28 L73.06,316.28 M74.87,316.28 L76.34,319.22 M77.89,319.22 L77.89,313.12 L80.03,313.12 L81.17,314.55 L81.17,317.80 L80.03,319.22 L77.89,319.22" fill="none" stroke="#3c3c3c" stroke-width="0.85" stroke-linejoin="round" stroke-linecap="round"/>
</g>
</svg>
</body></html>
